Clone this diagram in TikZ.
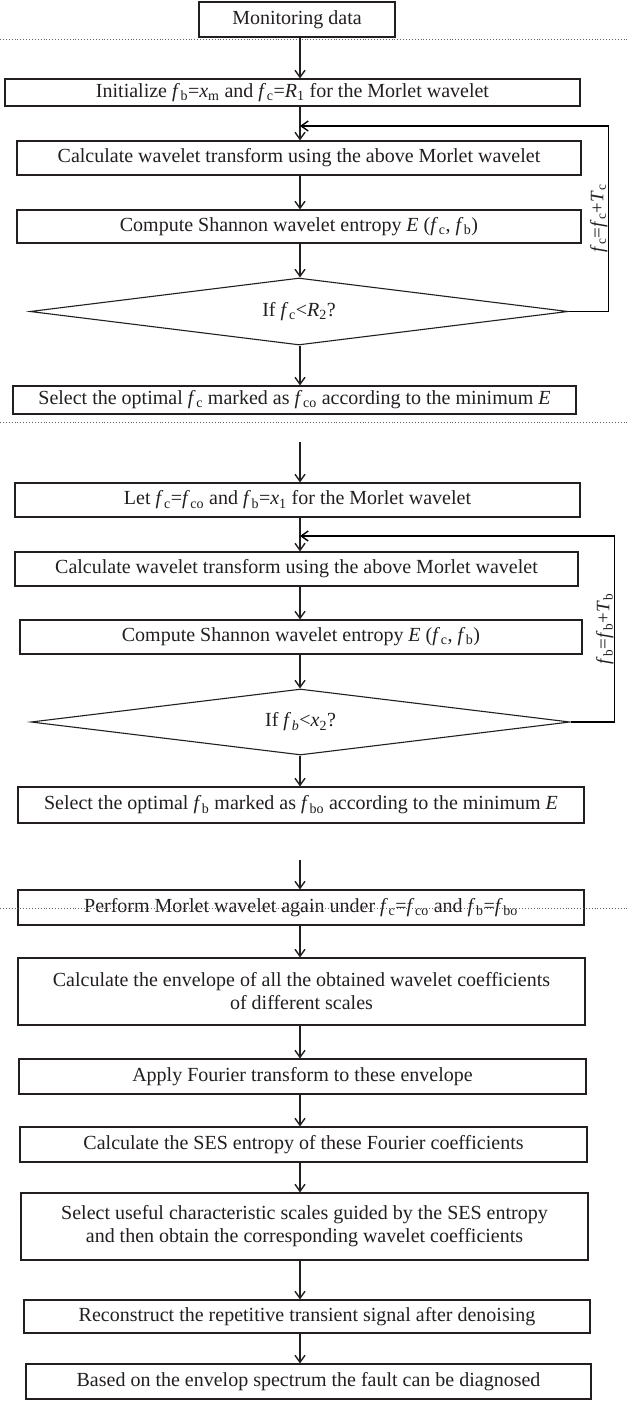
\documentclass[tikz,border=0pt]{standalone}
\usepackage{fontspec}
\setmainfont{Liberation Serif}
\usetikzlibrary{arrows.meta,shapes.geometric,calc}
\newcommand{\vf}[1]{\textit{f}\kern0.03em\textsubscript{#1}}
\newcommand{\vx}[2]{\textit{#1}\textsubscript{#2}}
\definecolor{ink}{HTML}{231F20}
\begin{document}
\begin{tikzpicture}[x=1pt,y=-1pt,
  box/.style={draw=ink,line width=1.1pt,rectangle,inner sep=0pt,align=center,text=ink,font=\fontsize{20}{23}\selectfont},
  dec/.style={draw=ink,line width=1.1pt,diamond,inner sep=0pt,aspect=8,text=ink,font=\fontsize{20}{23}\selectfont},
  arr/.style={draw=ink,line width=1.4pt,-{Straight Barb[length=7pt,width=10pt,line width=1.4pt]}},
  fb/.style={draw=black,line width=1.5pt},
  sep/.style={draw=ink!70,line width=0.9pt,dotted},
  lab/.style={rotate=90,anchor=south,text=ink,inner sep=1pt,font=\fontsize{19}{20}\selectfont}]
\fill[white] (0,0) rectangle (627,1412);
\useasboundingbox (0,0) rectangle (627,1412);
\coordinate (X) at (300,0);
% separators
\draw[sep] (0,39) -- (627,39);
\draw[sep] (0,422) -- (627,422);
% nodes
\node[box,minimum width=196pt,minimum height=35pt] (mon) at (297,19.5) {Monitoring data};
\node[box,minimum width=575pt,minimum height=27pt] (init) at (292.5,92.5) {Initialize \vf{b}=\vx{x}{m} and \vf{c}=\vx{R}{1} for the Morlet wavelet};
\node[box,minimum width=564pt,minimum height=34pt] (calc1) at (299,158) {Calculate wavelet transform using the above Morlet wavelet};
\node[box,minimum width=564pt,minimum height=33pt] (comp1) at (299,226.5) {Compute Shannon wavelet entropy \textit{E} (\vf{c}, \vf{b})};
\node[dec,minimum width=538pt,minimum height=67pt] (dia1) at (299,311.5) {If \vf{c}<\vx{R}{2}?};
\node[box,minimum width=563pt,minimum height=28pt] (selc) at (294.5,400) {Select the optimal \vf{c} marked as \vf{co} according to the minimum \textit{E}};
\node[box,minimum width=565pt,minimum height=34pt] (let) at (297.5,500) {Let \vf{c}=\vf{co} and \vf{b}=\vx{x}{1} for the Morlet wavelet};
\node[box,minimum width=563pt,minimum height=34pt] (calc2) at (296.5,569) {Calculate wavelet transform using the above Morlet wavelet};
\node[box,minimum width=562pt,minimum height=34pt] (comp2) at (301,637) {Compute Shannon wavelet entropy \textit{E} (\vf{c}, \vf{b})};
\node[dec,minimum width=539pt,minimum height=66pt] (dia2) at (300.5,722) {If \textit{f}\kern0.03em\textsubscript{\textit{b}}<\vx{x}{2}?};
\node[box,minimum width=566pt,minimum height=36pt] (self) at (301,805) {Select the optimal \vf{b} marked as \vf{bo} according to the minimum \textit{E}};
\node[box,minimum width=566pt,minimum height=35pt] (perf) at (301,907.5) {Perform Morlet wavelet again under \vf{c}=\vf{co} and \vf{b}=\vf{bo}};
\node[box,minimum width=567pt,minimum height=67pt] (env) at (301.5,991.5) {Calculate the envelope of all the obtained wavelet coefficients\\ of different scales};
\node[box,minimum width=567pt,minimum height=35pt] (app) at (302.5,1076.5) {Apply Fourier transform to these envelope};
\node[box,minimum width=567pt,minimum height=35pt] (ses) at (303.5,1144.5) {Calculate the SES entropy of these Fourier coefficients};
\node[box,minimum width=567pt,minimum height=67pt] (use) at (304.5,1226.5) {Select useful characteristic scales guided by the SES entropy\\ and then obtain the corresponding wavelet coefficients};
\node[box,minimum width=566pt,minimum height=33pt] (rec) at (307,1316.5) {Reconstruct the repetitive transient signal after denoising};
\node[box,minimum width=565pt,minimum height=35pt] (bas) at (308.5,1381.5) {Based on the envelop spectrum the fault can be diagnosed};
\draw[sep] (0,908) -- (627,908);
% free arrow starts and feedback joins
\coordinate (s2) at (300,442);
\coordinate (s3) at (300,860);
\coordinate (j1) at (300,126);
\coordinate (j2) at (300,536);
% main arrows
\draw[arr] (mon.south -| X) -- (init.north -| X);
\draw[arr] (init.south -| X) -- (calc1.north -| X);
\draw[arr] (calc1.south -| X) -- (comp1.north -| X);
\draw[arr] (comp1.south -| X) -- (dia1.north -| X);
\draw[arr] (dia1.south -| X) -- (selc.north -| X);
\draw[arr] (s2) -- (let.north -| X);
\draw[arr] (let.south -| X) -- (calc2.north -| X);
\draw[arr] (calc2.south -| X) -- (comp2.north -| X);
\draw[arr] (comp2.south -| X) -- (dia2.north -| X);
\draw[arr] (dia2.south -| X) -- (self.north -| X);
\draw[arr] (s3) -- (perf.north -| X);
\draw[arr] (perf.south -| X) -- (env.north -| X);
\draw[arr] (env.south -| X) -- (app.north -| X);
\draw[arr] (app.south -| X) -- (ses.north -| X);
\draw[arr] (ses.south -| X) -- (use.north -| X);
\draw[arr] (use.south -| X) -- (rec.north -| X);
\draw[arr] (rec.south -| X) -- (bas.north -| X);
% feedback loops
\draw[fb] (dia1.east) -- ++(40,0) coordinate (c1) -- (c1 |- j1) coordinate (c1t);
\draw[arr,draw=black,line width=1.5pt] (c1t) -- (j1);
\node[lab] (l1) at ($(c1)!0.5!(c1t)$) {\vf{c}=\vf{c}+\vx{T}{c}};
\draw[fb] (dia2.east) -- ++(44,0) coordinate (c2) -- (c2 |- j2) coordinate (c2t);
\draw[arr,draw=black,line width=1.5pt] (c2t) -- (j2);
\node[lab] (l2) at ($(c2)!0.5!(c2t)$) {\vf{b}=\vf{b}+\vx{T}{b}};
\end{tikzpicture}
\end{document}
